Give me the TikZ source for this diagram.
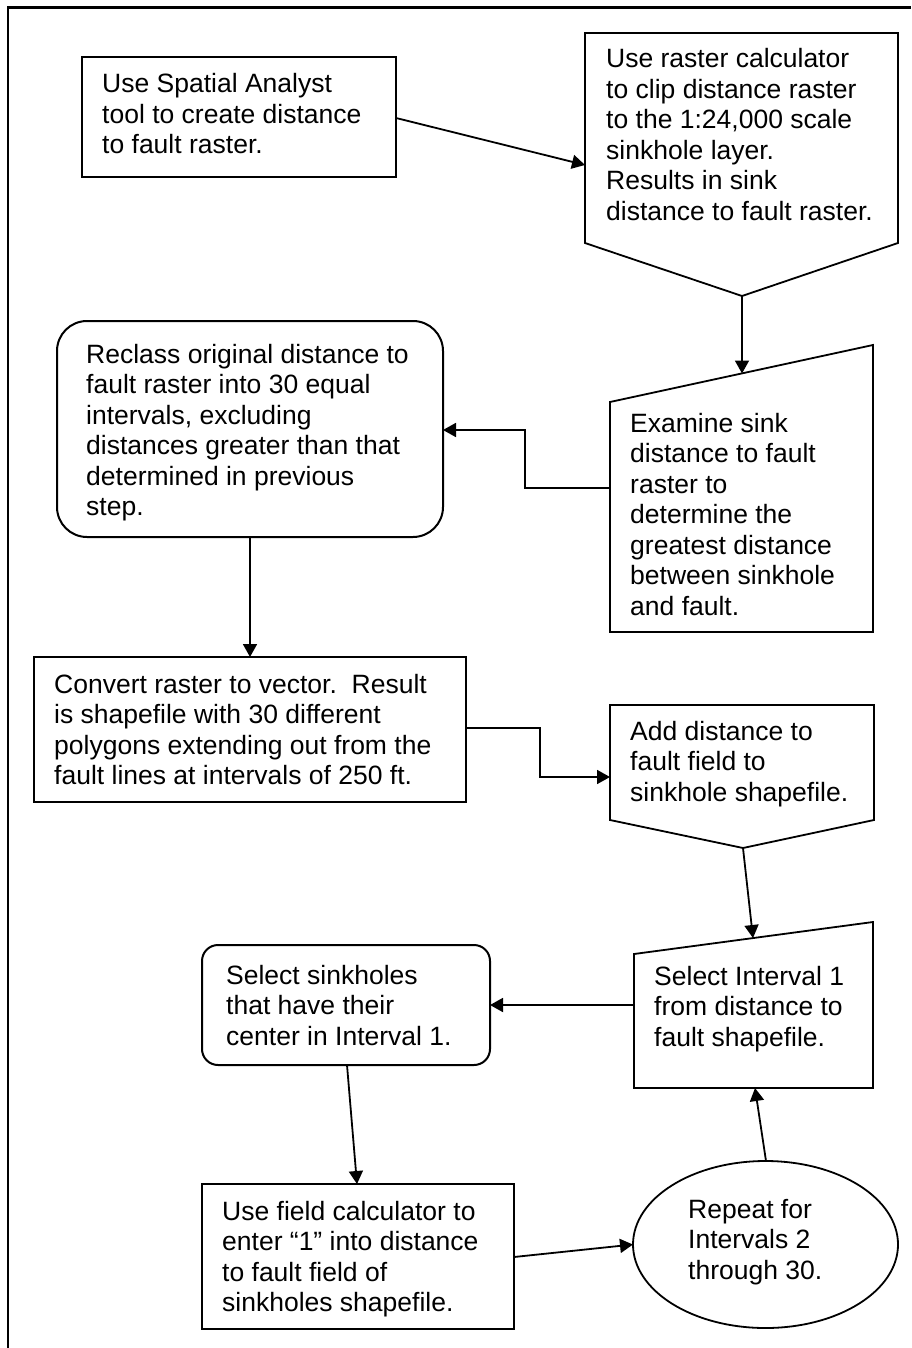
\documentclass[tikz,border=0pt]{standalone}
\usepackage{fontspec}
\setmainfont{Liberation Sans}
\usetikzlibrary{arrows.meta,shapes.geometric}
\newcommand{\mylines}[1]{\begin{tabular}[t]{@{}l@{}}#1\end{tabular}}
\begin{document}
\begin{tikzpicture}[x=1pt,y=-1pt,
  boxshape/.style={draw=black, line width=2pt, inner sep=0pt, outer sep=0pt, anchor=north west},
  polyshape/.style={draw=black, line width=1.8pt, line join=miter},
  conn/.style={draw=black, line width=1.8pt, -{Triangle[length=13pt,width=14pt]}},
  txt/.style={anchor=base west, inner sep=0pt, font=\fontsize{26.5}{30.5}\selectfont},
  frameline/.style={draw=black, line width=2.5pt}]
\useasboundingbox (0,0) rectangle (911,1348);
% frame (top and left only)
\coordinate (fbl) at (8,1348);
\coordinate (ftl) at (8,7.5);
\coordinate (ftr) at (911,7.5);
\draw[frameline] (fbl) -- (ftl) -- (ftr);

% Box 1
\node[boxshape, minimum width=314pt, minimum height=120pt] (b1) at (82,57) {};
\node[txt] (t1) at (102,93) {\mylines{Use Spatial Analyst\\tool to create distance\\to fault raster.}};

% Box 2 (off-page connector)
\coordinate (p2tl) at (585,33);
\coordinate (p2tr) at (898,33);
\coordinate (p2br) at (898,243);
\coordinate (p2tip) at (742,296);
\coordinate (p2bl) at (585,243);
\coordinate (p2in) at (585,165);
\draw[polyshape] (p2tl) -- (p2tr) -- (p2br) -- (p2tip) -- (p2bl) -- cycle;
\node[txt] (t2) at (606,68) {\mylines{Use raster calculator\\to clip distance raster\\to the 1:24,000 scale\\sinkhole layer.\\Results in sink\\distance to fault raster.}};

% Trapezoid B (manual input)
\coordinate (qbtl) at (610,402);
\coordinate (qbtr) at (873,345);
\coordinate (qbbr) at (873,632);
\coordinate (qbbl) at (610,632);
\coordinate (qbtop) at (742,373.5);
\coordinate (qbleft) at (610,488);
\draw[polyshape] (qbtl) -- (qbtr) -- (qbbr) -- (qbbl) -- cycle;
\node[txt] (tb) at (630,432) {\mylines{Examine sink\\distance to fault\\raster to\\determine the\\greatest distance\\between sinkhole\\and fault.}};

% Rounded box A
\node[boxshape, rounded corners=30pt, minimum width=386pt, minimum height=216pt] (ra) at (57,321) {};
\node[txt] (ta) at (86,363) {\mylines{Reclass original distance to\\fault raster into 30 equal\\intervals, excluding\\distances greater than that\\determined in previous\\step.}};

% Box 4
\node[boxshape, minimum width=432pt, minimum height=145pt] (b4) at (34,657) {};
\node[txt] (t4) at (54,693) {\mylines{Convert raster to vector.\ \ Result\\is shapefile with 30 different\\polygons extending out from the\\fault lines at intervals of 250 ft.}};

% Box 5 (off-page connector)
\coordinate (p5tl) at (610,705);
\coordinate (p5tr) at (874,705);
\coordinate (p5br) at (874,820);
\coordinate (p5tip) at (743,848);
\coordinate (p5bl) at (610,820);
\coordinate (p5in) at (610,777);
\draw[polyshape] (p5tl) -- (p5tr) -- (p5br) -- (p5tip) -- (p5bl) -- cycle;
\node[txt] (t5) at (630,740) {\mylines{Add distance to\\fault field to\\sinkhole shapefile.}};

% Trapezoid 6 (manual input)
\coordinate (q6tl) at (634,954);
\coordinate (q6tr) at (873,922);
\coordinate (q6br) at (873,1088);
\coordinate (q6bl) at (634,1088);
\coordinate (q6top) at (753,938);
\coordinate (q6left) at (634,1005);
\coordinate (q6bot) at (755,1088);
\draw[polyshape] (q6tl) -- (q6tr) -- (q6br) -- (q6bl) -- cycle;
\node[txt] (t6) at (654,985) {\mylines{Select Interval 1\\from distance to\\fault shapefile.}};

% Rounded box 7
\node[boxshape, rounded corners=16pt, minimum width=288pt, minimum height=120pt] (r7) at (202,945) {};
\node[txt] (t7) at (226,984) {\mylines{Select sinkholes\\that have their\\center in Interval 1.}};

% Box 8
\node[boxshape, minimum width=312pt, minimum height=145pt] (b8) at (202,1184) {};
\node[txt] (t8) at (222,1220) {\mylines{Use field calculator to\\enter “1” into distance\\to fault field of\\sinkholes shapefile.}};

% Ellipse
\node[draw=black, line width=1.8pt, ellipse, inner sep=0pt, outer sep=0pt, minimum width=265pt, minimum height=167pt] (el) at (765.5,1244.5) {};
\node[txt] (te) at (688,1218) {\mylines{Repeat for\\Intervals 2\\through 30.}};

% connectors
\coordinate (c1a) at (396,118);
\draw[conn] (c1a) -- (p2in);
\draw[conn] (p2tip) -- (qbtop);
\coordinate (c3a) at (525,488);
\coordinate (c3b) at (525,430);
\coordinate (c3c) at (443,430);
\draw[conn] (qbleft) -- (c3a) -- (c3b) -- (c3c);
\coordinate (c4a) at (250,537);
\coordinate (c4b) at (250,657);
\draw[conn] (c4a) -- (c4b);
\coordinate (c5a) at (466,728);
\coordinate (c5b) at (540,728);
\coordinate (c5c) at (540,777);
\draw[conn] (c5a) -- (c5b) -- (c5c) -- (p5in);
\draw[conn] (p5tip) -- (q6top);
\coordinate (c7b) at (490,1005);
\draw[conn] (q6left) -- (c7b);
\coordinate (c8a) at (347,1065);
\coordinate (c8b) at (357,1184);
\draw[conn] (c8a) -- (c8b);
\coordinate (c9a) at (514,1257);
\draw[conn] (c9a) -- (el.west);
\coordinate (c10a) at (766,1161);
\draw[conn] (c10a) -- (q6bot);
\end{tikzpicture}
\end{document}
